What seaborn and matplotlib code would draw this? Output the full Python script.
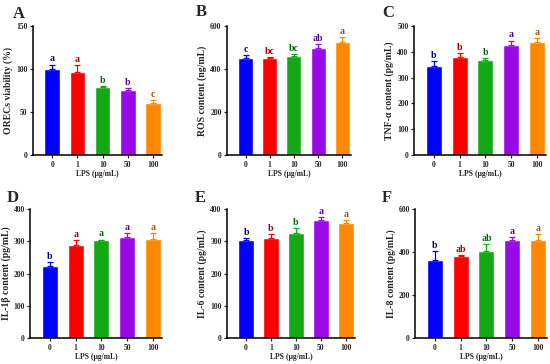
import matplotlib

matplotlib.use("Agg")
import matplotlib.pyplot as plt
import pandas as pd
import seaborn as sns

doses = ["0", "1", "10", "50", "100"]
bar_colors = ["#0000FF", "#FF0000", "#14A814", "#9A0AE6", "#FF8800"]
letter_colors = ["#00007A", "#A00000", "#006A00", "#5A0090", "#A05000"]

viability = [100, 96, 79, 76, 60]
viability_err = [5, 8, 1, 2, 4]
viability_sig = ["a", "a", "b", "b", "c"]

ros = [450, 450, 462, 497, 527]
ros_err = [15, 5, 5, 18, 20]
ros_sig = ["c", "bc", "bc", "ab", "a"]

tnf = [345, 378, 368, 425, 437]
tnf_err = [18, 15, 8, 18, 15]
tnf_sig = ["b", "b", "b", "a", "a"]

il1b = [224, 287, 303, 312, 306]
il1b_err = [12, 17, 2, 12, 18]
il1b_sig = ["b", "a", "a", "a", "a"]

il6 = [304, 309, 327, 367, 355]
il6_err = [6, 12, 14, 8, 10]
il6_sig = ["b", "b", "b", "a", "a"]

il8 = [365, 380, 405, 458, 455]
il8_err = [38, 7, 30, 12, 28]
il8_sig = ["b", "ab", "ab", "a", "a"]

# letter, y label, data, y max, tick step, axes rect, panel-letter pixel spot
panels = [
    ("A", "ORECs viability (%)", viability, viability_err, viability_sig, 150, 50,
     [0.060, 0.574, 0.235, 0.355], (13, 18)),
    ("B", "ROS content (ng/mL)", ros, ros_err, ros_sig, 600, 200,
     [0.413, 0.574, 0.225, 0.355], (196, 16)),
    ("C", "TNF-α content (pg/mL)", tnf, tnf_err, tnf_sig, 500, 100,
     [0.753, 0.574, 0.240, 0.355], (382, 17)),
    ("D", "IL-1β content (pg/mL)", il1b, il1b_err, il1b_sig, 400, 100,
     [0.055, 0.071, 0.240, 0.355], (7, 202)),
    ("E", "IL-6 content (pg/mL)", il6, il6_err, il6_sig, 400, 100,
     [0.413, 0.071, 0.232, 0.355], (195, 202)),
    ("F", "IL-8 content (pg/mL)", il8, il8_err, il8_sig, 600, 200,
     [0.755, 0.071, 0.240, 0.355], (382, 202)),
]

sns.set_theme(style="ticks")
plt.rcParams["font.family"] = ["Liberation Serif", "DejaVu Serif"]
plt.rcParams["font.weight"] = "bold"

fig = plt.figure(figsize=(5.5, 3.64), dpi=100)

for letter, ylabel, values, errors, sig, ymax, step, rect, spot in panels:
    ax = fig.add_axes(rect)
    frame = pd.DataFrame({"dose": doses, "value": values})
    sns.barplot(data=frame, x="dose", y="value", hue="dose", palette=bar_colors,
                legend=False, width=0.62, ax=ax, saturation=1)
    for i, (v, e) in enumerate(zip(values, errors)):
        ax.errorbar(i, v, yerr=[[0], [e]], fmt="none", ecolor=bar_colors[i],
                    elinewidth=0.9, capsize=2.5, capthick=0.9)
        ax.text(i, v + e + ymax * 0.01, sig[i], ha="center", va="bottom",
                fontsize=7, fontweight="bold", color=letter_colors[i])
    ax.set_xlim(-0.76, 4.36)
    ax.set_ylim(0, ymax)
    ax.set_yticks(range(0, ymax + 1, step))
    ax.set_xlabel("LPS (μg/mL)", fontsize=5.5, fontweight="bold", labelpad=1)
    ax.set_ylabel(ylabel, fontsize=7, fontweight="bold", labelpad=2)
    ax.tick_params(axis="both", labelsize=5.5, width=0.9, length=2.5, pad=1.5)
    for lab in ax.get_xticklabels() + ax.get_yticklabels():
        lab.set_fontweight("bold")
    sns.despine(ax=ax)
    for side in ["left", "bottom"]:
        ax.spines[side].set_linewidth(1.1)
        ax.spines[side].set_color("black")
    fig.text(spot[0] / 550, 1 - spot[1] / 364, letter, fontsize=12,
             fontweight="bold", ha="left", va="baseline")

fig.savefig("out.png", dpi=100)
